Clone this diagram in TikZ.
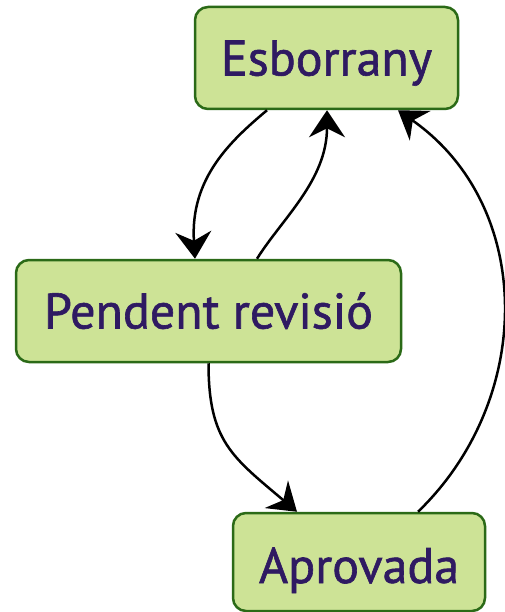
\documentclass[tikz,border=0pt]{standalone}
\usepackage{fontspec}
\setmainfont{PT Sans}[FakeBold=1.2]
\usetikzlibrary{arrows.meta}
\definecolor{boxfill}{HTML}{CDE396}
\definecolor{boxdraw}{HTML}{2B6A17}
\definecolor{txt}{HTML}{2F1A62}
\begin{document}
\begin{tikzpicture}[x=1pt,y=-1pt,
  state/.style={draw=boxdraw, fill=boxfill, line width=2.5pt, rounded corners=13pt,
    text=txt, font=\fontsize{50}{60}\selectfont, inner sep=0pt,
    minimum height=102pt, text height=35pt, text depth=0pt},
  conn/.style={line width=2.5pt, -{Stealth[length=27pt,width=36pt,inset=9pt]}}]
\useasboundingbox (0,0) rectangle (505,612);
\node[state, minimum width=263pt] (e) at (326.5,58) {Esborrany};
\node[state, minimum width=385pt] (p) at (208.5,311) {Pendent revisió};
\node[state, minimum width=252pt, minimum height=98pt, text height=42pt] (a) at (359,562) {Aprovada};
\draw[conn] ([xshift=-59.5pt]e.south) .. controls +(-37,31) and +(-5,-80) .. ([xshift=-13.5pt]p.north);
\draw[conn] ([xshift=48.5pt]p.north) .. controls +(25,-40) and +(0,70) .. ([xshift=0.5pt]e.south);
\draw[conn] (p.south) .. controls +(0,78) and +(-65,-55) .. ([xshift=-62pt]a.north);
\draw[conn] ([xshift=59pt]a.north) .. controls +(117,-113) and +(137,96) .. ([xshift=71.5pt]e.south);
\end{tikzpicture}
\end{document}
